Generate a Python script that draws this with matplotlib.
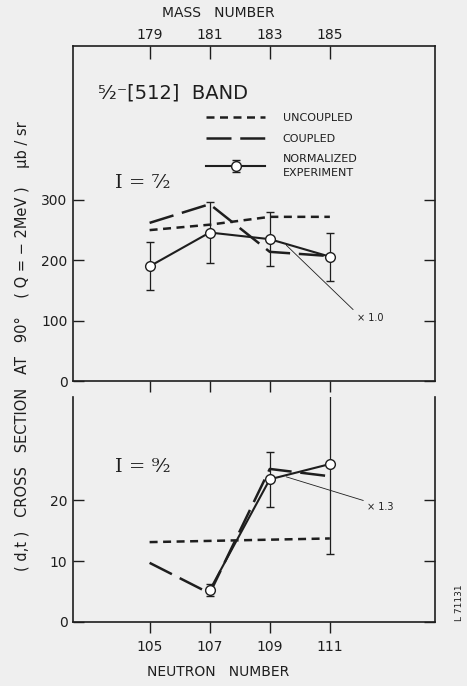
import matplotlib
matplotlib.use("Agg")
import matplotlib.pyplot as plt

neutron = [105, 107, 109, 111]
mass = [179, 181, 183, 185]

# I = 7/2 (ub/sr)
unc_7 = [250, 259, 272, 272]
cpl_7 = [262, 293, 214, 207]
exp_7 = [190, 246, 235, 206]
err_7 = [40, 50, 45, 40]

# I = 9/2
unc_9 = [13.1, 13.3, 13.5, 13.7]
cpl_9 = [9.7, 4.7, 25.1, 23.9]
exp_9 = [5.2, 23.4, 25.9]
exp_9_n = [107, 109, 111]
err_9 = [1.0, 4.5, 14.8]

bg = "#efefef"
ink = "#1e1e1e"
plt.rcParams["font.family"] = "DejaVu Sans"

fig = plt.figure(figsize=(4.67, 6.86), dpi=100, facecolor=bg)
ax1 = fig.add_axes([0.1563, 0.4446, 0.7752, 0.4883], facecolor=bg)
ax2 = fig.add_axes([0.1563, 0.0933, 0.7752, 0.3280], facecolor=bg)


def draw(ax, unc, cpl, xn, ex, er):
    ax.plot(neutron, unc, color=ink, lw=1.8, dashes=(3.2, 2.2), label="UNCOUPLED")
    ax.plot(neutron, cpl, color=ink, lw=1.8, dashes=(10, 3.5), label="COUPLED")
    ax.errorbar(xn, ex, yerr=er, color=ink, lw=1.5, elinewidth=0.9, capsize=3,
                capthick=0.9, marker="o", ms=7, mfc="white", mec=ink, mew=1.0,
                label="NORMALIZED\nEXPERIMENT")


draw(ax1, unc_7, cpl_7, neutron, exp_7, err_7)
draw(ax2, unc_9, cpl_9, exp_9_n, exp_9, err_9)

for ax in (ax1, ax2):
    ax.set_xlim(102.45, 114.5)
    for s in ax.spines.values():
        s.set_color(ink)
        s.set_linewidth(1.2)
    ax.set_xticks(neutron)
    ax.tick_params(axis="y", which="both", direction="in", length=8, width=1.0,
                   left=True, right=True, labelsize=10, colors=ink, pad=4)
    ax.tick_params(axis="x", direction="out", length=8, width=1.0, labelsize=10,
                   colors=ink, pad=5)

ax1.set_ylim(0, 555)
ax1.set_yticks([0, 100, 200, 300])
ax1.tick_params(axis="x", labelbottom=False)
top = ax1.secondary_xaxis("top")
top.set_xticks(neutron, labels=[str(m) for m in mass])
top.tick_params(direction="in", length=9, width=1.0, labelsize=10, colors=ink, pad=3)
top.spines["top"].set_visible(False)

ax2.set_ylim(0, 36.9)
ax2.set_yticks([0, 10, 20])
ax2.spines["top"].set_visible(False)
ax2.set_xticks(neutron, labels=[str(n) for n in neutron])

leg = ax1.legend(loc="upper left", bbox_to_anchor=(0.34, 0.83), frameon=False,
                 fontsize=8, handlelength=5.3, labelspacing=0.95,
                 handletextpad=1.6, labelcolor=ink)
for t in leg.get_texts():
    t.set_linespacing(1.45)

ax1.text(0.07, 0.86, "⁵⁄₂⁻[512]  BAND", transform=ax1.transAxes, fontsize=14,
         color=ink, va="center")
ax1.text(0.115, 0.59, "I = ⁷⁄₂", transform=ax1.transAxes, fontsize=14,
         family="DejaVu Serif", color=ink, va="center")
ax2.text(0.115, 0.69, "I = ⁹⁄₂", transform=ax2.transAxes, fontsize=14,
         family="DejaVu Serif", color=ink, va="center")

ax1.annotate("× 1.0", xy=(109.55, 225), xytext=(111.9, 104), fontsize=7,
             color=ink, va="center",
             arrowprops=dict(arrowstyle="-", lw=0.6, color=ink, relpos=(0, 1),
                             shrinkA=1, shrinkB=0))
ax2.annotate("× 1.3", xy=(109.55, 23.8), xytext=(112.25, 18.9), fontsize=7,
             color=ink, va="center",
             arrowprops=dict(arrowstyle="-", lw=0.6, color=ink, relpos=(0, 1),
                             shrinkA=1, shrinkB=0))

fig.text(218 / 467, 1 - 13 / 686, "MASS   NUMBER", ha="center", va="center",
         fontsize=10, color=ink)
fig.text(218 / 467, 1 - 672 / 686, "NEUTRON   NUMBER", ha="center", va="center",
         fontsize=10, color=ink)
fig.text(22 / 467, 1 - 346 / 686,
         "( d,t )   CROSS   SECTION   AT   90°    ( Q = − 2MeV )    µb / sr",
         rotation=90, ha="center", va="center", fontsize=10.5, color=ink)
fig.text(460 / 467, 1 - 603 / 686, "L 71131", rotation=90, ha="center",
         va="center", fontsize=6.5, color=ink)

fig.savefig("out.png", dpi=100, facecolor=bg)
